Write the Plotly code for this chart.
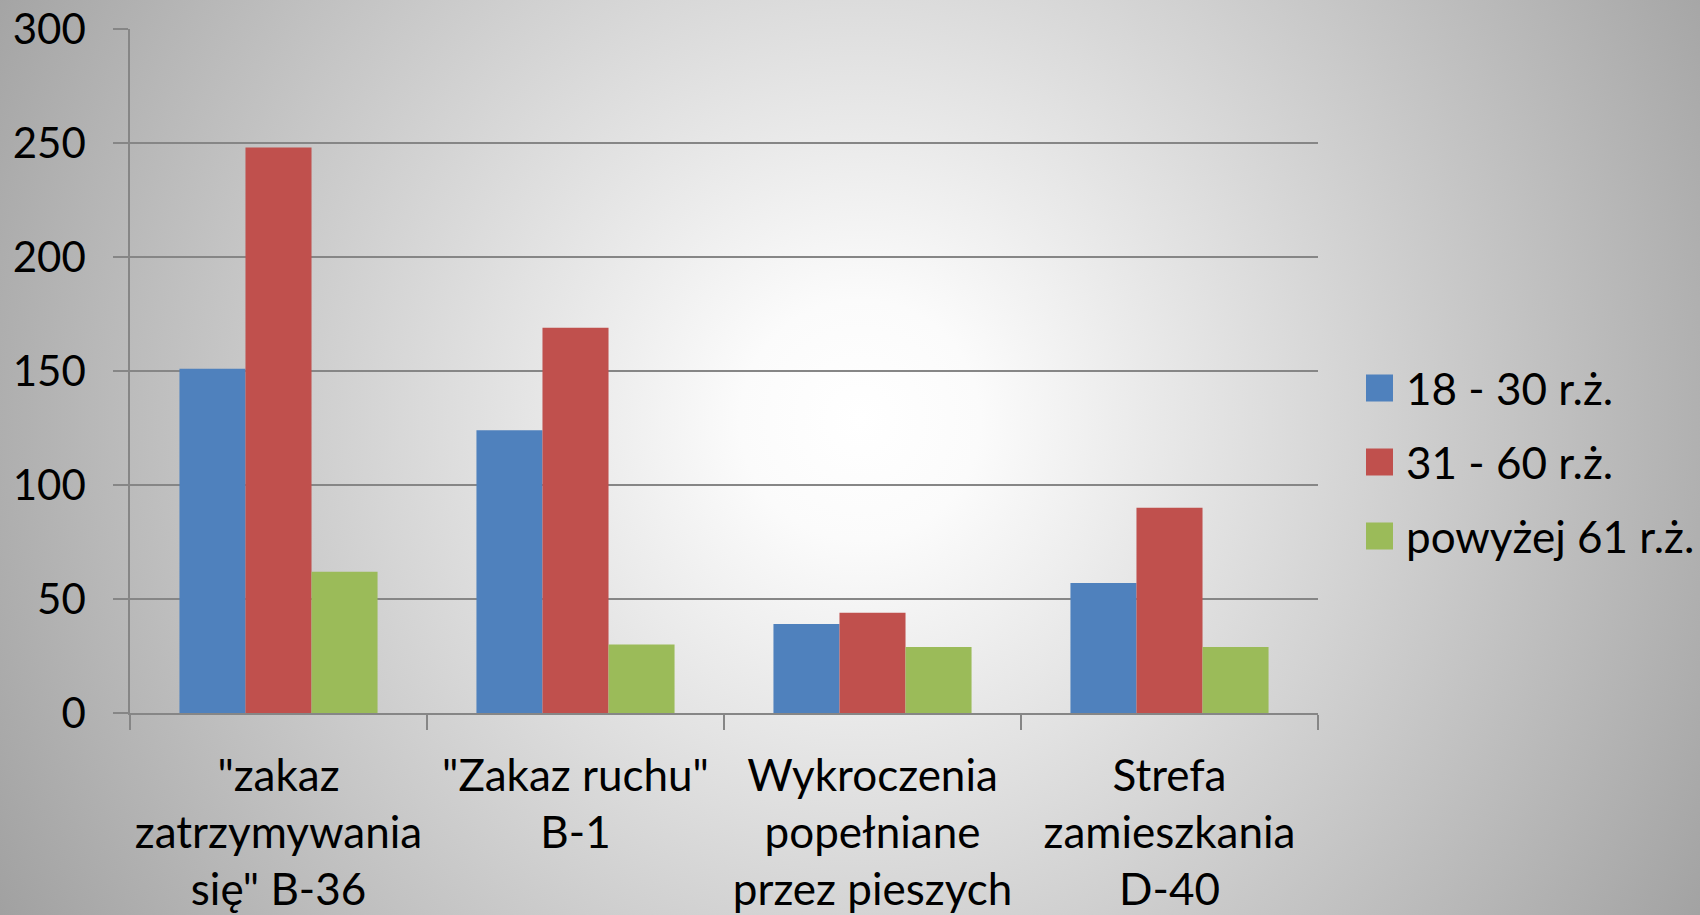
import base64
import plotly.graph_objects as go

categories = [
    '"zakaz<br>zatrzymywania<br>się" B-36',
    '"Zakaz ruchu"<br>B-1',
    'Wykroczenia<br>popełniane<br>przez pieszych',
    'Strefa<br>zamieszkania<br>D-40',
]
series_names = ["18 - 30 r.ż.", "31 - 60 r.ż.", "powyżej 61 r.ż."]
age_18_30 = [151, 124, 39, 57]
age_31_60 = [248, 169, 44, 90]
age_61_up = [62, 30, 29, 29]
y_ticks = [0, 50, 100, 150, 200, 250, 300]

colors = ["#4F81BD", "#C0504D", "#9BBB59"]
FONT = "Lato"
W, H = 1700, 915
ML, MR, MT, MB = 130, 382, 29, 202
PW, PH = W - ML - MR, H - MT - MB

fig = go.Figure()
for name, vals, c in zip(series_names, [age_18_30, age_31_60, age_61_up], colors):
    fig.add_trace(go.Bar(x=categories, y=vals, name=name, marker_color=c,
                         marker_line_width=0, showlegend=False))

# radial grey background like the office chart style
svg = (f"<svg xmlns='http://www.w3.org/2000/svg' width='{W}' height='{H}' viewBox='0 0 {W} {H}'>"
       "<defs><radialGradient id='g' gradientUnits='userSpaceOnUse' cx='860' cy='420' r='1000'>"
       "<stop offset='0' stop-color='#ffffff'/><stop offset='0.12' stop-color='#fbfbfb'/>"
       "<stop offset='1' stop-color='#a0a0a0'/></radialGradient></defs>"
       f"<rect width='{W}' height='{H}' fill='url(#g)'/></svg>")
src = "data:image/svg+xml;base64," + base64.b64encode(svg.encode()).decode()
fig.add_layout_image(source=src, xref="paper", yref="paper", x=-ML / PW, y=1 + MT / PH,
                     sizex=W / PW, sizey=H / PH, xanchor="left", yanchor="top",
                     sizing="stretch", layer="below")

# legend drawn by hand so the swatches can be as big as in the original
for i, (name, c) in enumerate(zip(series_names, colors)):
    yc = (713 - 388 - 74 * i) / PH
    fig.add_shape(type="rect", xref="paper", yref="paper",
                  x0=(1366 - ML) / PW, x1=(1393 - ML) / PW,
                  y0=yc - 13.5 / PH, y1=yc + 13.5 / PH,
                  fillcolor=c, line_width=0)
    fig.add_annotation(text=name, xref="paper", yref="paper", x=(1404 - ML) / PW, y=yc,
                       xanchor="left", yanchor="middle", showarrow=False,
                       font=dict(family=FONT, size=44, color="black"))

fig.update_layout(
    width=W, height=H,
    margin=dict(l=ML, r=MR, t=MT, b=MB),
    paper_bgcolor="#b0b0b0", plot_bgcolor="rgba(0,0,0,0)",
    barmode="group", bargap=0.333, bargroupgap=0,
    font=dict(family=FONT, size=42, color="black"),
    showlegend=False,
)
fig.update_xaxes(showline=True, linecolor="#868686", linewidth=1.5, showgrid=False,
                 ticks="outside", ticklen=15, tickcolor="#868686", tickwidth=1.5,
                 tickson="boundaries", tickfont=dict(size=44), ticklabelstandoff=23,
                 automargin=False)
fig.update_yaxes(range=[0, 300], tickvals=y_ticks, showline=True, linecolor="#868686",
                 linewidth=1.5, gridcolor="#868686", gridwidth=1.5, zeroline=False,
                 ticks="outside", ticklen=15, tickcolor="#868686", tickwidth=1.5,
                 tickfont=dict(size=42), ticklabelstandoff=19, automargin=False)

fig.write_html("out.html", config={"displayModeBar": False},
               post_script="document.body.style.margin='0';")
